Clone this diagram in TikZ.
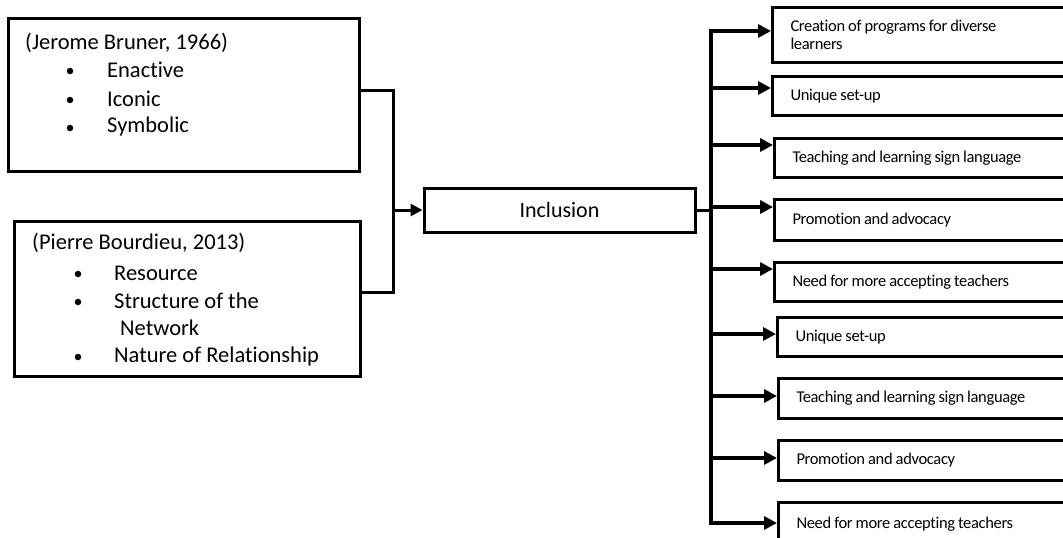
\documentclass[tikz,border=0pt]{standalone}
\usepackage{fontspec}
\setmainfont{Carlito}[Ligatures={NoCommon}]
\newfontfamily\rfam{Carlito}[Ligatures={NoCommon},LetterSpace=-2]
\usetikzlibrary{arrows.meta,calc}
\newcommand{\rfont}{\rfam\fontsize{16.5}{18}\selectfont\spaceskip=3pt plus 1pt minus 0.5pt\relax}
\begin{document}
\begin{tikzpicture}[x=1pt,y=-1pt,
  box/.style={draw,line width=3pt,rectangle,inner sep=0pt},
  conn/.style={line width=3pt},
  arr/.style={line width=4pt,-{Triangle[length=13pt,width=13pt]}},
  rbox/.style={draw,line width=3pt,rectangle,anchor=north west,inner xsep=18pt,inner ysep=0pt,
     text width=260pt,align=flush left,font=\rfont},
  ltxt/.style={anchor=west,inner sep=0pt,font=\fontsize{22.5}{26}\selectfont},
  bul/.style={circle,fill,inner sep=0pt,minimum size=6.5pt}]
\clip (0,0) rectangle (1063,538);
\fill[white] (0,0) rectangle (1063,538);
% left boxes
\node[box,minimum width=351pt,minimum height=153pt] (B1) at (183.5,94.5) {};
\node[box,minimum width=346pt,minimum height=155pt] (B2) at (187,299) {};
\node[ltxt] (b1t) at (25,43) {(Jerome Bruner, 1966)};
\node[bul] (b1a) at (70,71) {};
\node[ltxt] (b1at) at (107,70) {Enactive};
\node[bul] (b1b) at (70,100) {};
\node[ltxt] (b1bt) at (107,99) {Iconic};
\node[bul] (b1c) at (70,128) {};
\node[ltxt] (b1ct) at (107,127) {Symbolic};
\node[ltxt] (b2t) at (32,243) {(Pierre Bourdieu, 2013)};
\node[bul] (b2a) at (78,274) {};
\node[ltxt] (b2at) at (114,273) {Resource};
\node[bul] (b2b) at (78,302) {};
\node[ltxt] (b2bt) at (114,301) {Structure of the};
\node[ltxt] (b2bt2) at (120,328) {Network};
\node[bul] (b2c) at (78,357) {};
\node[ltxt] (b2ct) at (114,356) {Nature of Relationship};
% inclusion
\node[box,minimum width=271pt,minimum height=44pt,font=\fontsize{22}{26}\selectfont] (inc) at (559.5,210) {Inclusion};
% left connectors
\coordinate (j1) at (393,90);
\coordinate (j2) at (393,292);
\draw[conn] (j1 -| B1.east) -- (j1) -- (j2) -- (j2 -| B2.east);
\draw[conn,-{Triangle[length=12pt,width=12pt]}] (j1 |- inc.west) -- (inc.west);
% right boxes
\node[rbox,minimum height=55pt] (R1) at (771,6) {Creation of programs for diverse\\learners};
\node[rbox,minimum height=39pt] (R2) at (771,75) {Unique set-up};
\node[rbox,minimum height=39pt] (R3) at (773,137) {Teaching and learning sign language};
\node[rbox,minimum height=41pt] (R4) at (773,198) {Promotion and advocacy};
\node[rbox,minimum height=39pt] (R5) at (773,261) {Need for more accepting teachers};
\node[rbox,minimum height=39pt] (R6) at (776,316) {Unique set-up};
\node[rbox,minimum height=40pt] (R7) at (777,377) {Teaching and learning sign language};
\node[rbox,minimum height=40pt] (R8) at (777,439) {Promotion and advocacy};
\node[rbox,minimum height=40pt,text depth=0pt] (R9) at (777,501) {Need for more accepting teachers\\[4pt]};
% trunk
\coordinate (t1) at (711,31);
\coordinate (t2) at (711,88);
\coordinate (t3) at (711,145);
\coordinate (t4) at (711,207);
\coordinate (t5) at (711,269);
\coordinate (t6) at (711,334);
\coordinate (t7) at (711,396);
\coordinate (t8) at (711,458);
\coordinate (t9) at (711,523);
\draw[line width=4.5pt,line cap=rect] (t1) -- (t9);
\draw[conn] (inc.east) -- (inc.east -| t1);
\foreach \i in {1,...,9}{
  \draw[arr] (t\i) -- (t\i -| R\i.west);
}
\end{tikzpicture}
\end{document}
